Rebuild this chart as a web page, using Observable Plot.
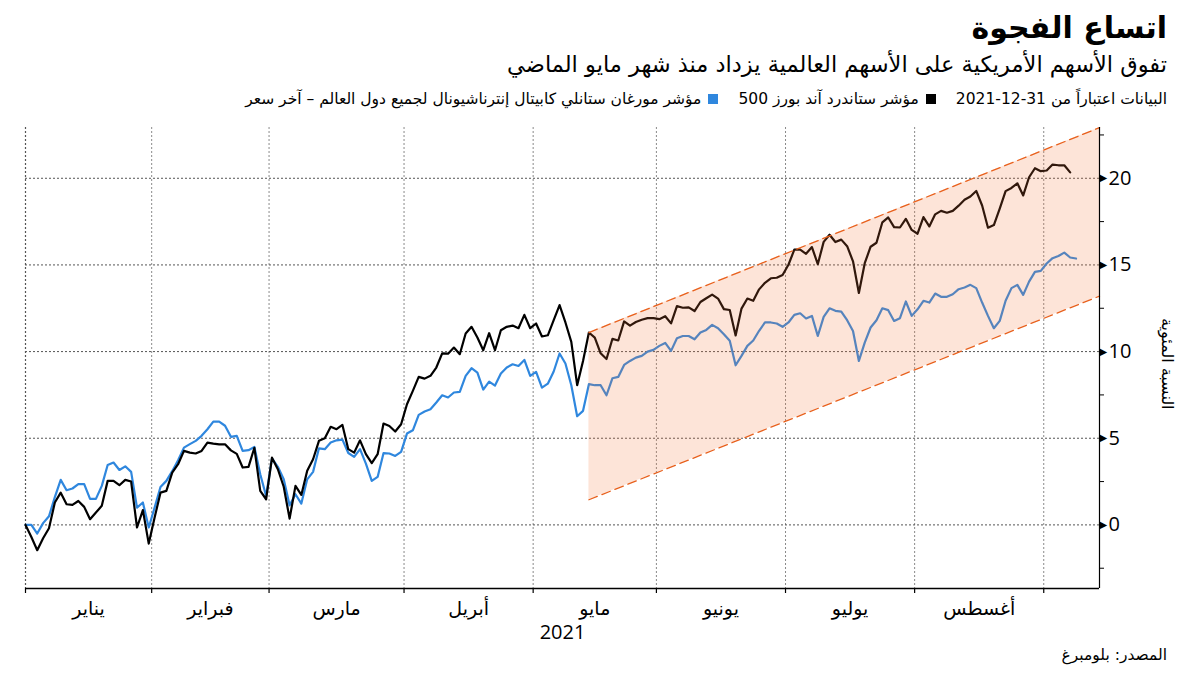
<!DOCTYPE html>
<html><head><meta charset="utf-8">
<script src="https://cdn.jsdelivr.net/npm/d3@7"></script>
<script src="https://cdn.jsdelivr.net/npm/@observablehq/plot@0.6"></script>
<style>
body{margin:0;background:#fff;}
#wrap{position:relative;width:1200px;height:675px;overflow:hidden;background:#fff;}
#chart{position:absolute;left:0;top:0;}
.hd{position:absolute;right:33px;direction:rtl;text-align:right;font-family:"DejaVu Sans",sans-serif;color:#000;white-space:nowrap;line-height:1.2;}
#title{top:10px;font-size:30px;font-weight:bold;}
#sub{top:51px;font-size:22.5px;}
#leg{top:90px;font-size:15.5px;}
.sw{display:inline-block;width:10px;height:10px;margin:0 20px 0 7px;vertical-align:0px;}
#src{top:646px;font-size:15.5px;}
</style></head><body>
<div id="wrap">
<div id="chart"></div>
<div class="hd" id="title">اتساع الفجوة</div>
<div class="hd" id="sub">تفوق الأسهم الأمريكية على الأسهم العالمية يزداد منذ شهر مايو الماضي</div>
<div class="hd" id="leg"><span>البيانات اعتباراً من 31-12-2021</span><span class="sw" style="background:#000"></span><span>مؤشر ستاندرد آند بورز 500</span><span class="sw" style="background:#2f87de"></span><span>مؤشر مورغان ستانلي كابيتال إنترناشيونال لجميع دول العالم – آخر سعر</span></div>
<div class="hd" id="src">المصدر: بلومبرغ</div>
</div>
<script>
// S&P 500, % change since 2020-12-31, one value per weekday starting 2020-12-31
const sp500 = [
0, -0.7, -1.46, -0.77, -0.19, 1.29, 1.86, 1.19, 1.15, 1.38,
1.04, 0.33, 0.71, 1.1, 2.54, 2.54, 2.29, 2.6, 2.5, -0.15,
0.85, -1.08, 0.42, 1.86, 1.96, 3.02, 3.5, 4.27, 4.17, 4.12,
4.27, 4.75, 4.69, 4.65, 4.65, 4.3, 4.1, 3.31, 3.35, 4.45,
1.96, 1.48, 3.88, 3.21, 2.2, 0.36, 2.25, 1.73, 3.12, 3.79,
4.85, 5.0, 5.66, 5.52, 5.77, 4.37, 4.17, 4.88, 4.08, 3.56,
4.08, 5.85, 5.71, 5.39, 5.81, 6.96, 7.73, 8.54, 8.44, 8.6,
9.08, 9.9, 9.88, 10.23, 9.85, 11.04, 11.43, 10.81, 10.08, 11.06,
10.08, 11.23, 11.43, 11.5, 11.35, 12.12, 11.35, 11.62, 10.87, 10.94,
11.81, 12.68, 11.68, 10.56, 8.06, 9.46, 11.1, 10.81, 9.9, 9.57,
10.73, 10.64, 11.74, 11.5, 11.71, 11.84, 11.93, 11.93, 11.87, 12.04,
11.63, 12.62, 12.53, 12.55, 12.34, 12.86, 13.08, 13.29, 13.06, 12.45,
12.4, 10.93, 12.48, 13.06, 12.93, 13.59, 13.97, 14.23, 14.26, 14.42,
15.01, 15.88, 15.88, 15.64, 16.03, 15.04, 16.33, 16.74, 16.32, 16.46,
16.08, 15.21, 13.38, 15.1, 16.05, 16.28, 17.46, 17.74, 17.18, 17.16,
17.66, 17.02, 16.8, 17.76, 17.22, 17.92, 18.12, 18.01, 18.12, 18.42,
18.76, 18.95, 19.27, 18.43, 17.15, 17.3, 18.25, 19.26, 19.44, 19.71,
19.01, 20.06, 20.58, 20.41, 20.45, 20.79, 20.75, 20.75, 20.34
];
// MSCI ACWI, % change since 2020-12-31, one value per weekday
const acwi = [
0, 0, -0.5, 0.1, 0.5, 1.6, 2.6, 2.0, 2.1, 2.35,
2.35, 1.5, 1.5, 2.25, 3.46, 3.6, 3.17, 3.38, 3.06, 1.0,
1.29, -0.15, 1.0, 2.19, 2.54, 3.1, 3.73, 4.46, 4.66, 4.85,
5.14, 5.52, 5.96, 5.96, 5.72, 5.08, 5.14, 4.27, 4.31, 4.5,
2.92, 1.67, 3.84, 3.35, 2.63, 1.13, 1.77, 1.23, 2.63, 3.06,
4.42, 4.37, 4.75, 4.88, 4.92, 4.15, 3.92, 4.37, 3.54, 2.54,
2.77, 4.14, 4.12, 3.98, 4.21, 5.27, 5.46, 6.35, 6.54, 6.67,
7.06, 7.48, 7.35, 7.64, 7.67, 8.6, 9.04, 8.79, 7.81, 8.27,
8.04, 8.73, 9.08, 9.27, 9.17, 9.52, 8.6, 8.83, 7.92, 8.15,
8.85, 9.89, 9.31, 8.06, 6.27, 6.58, 8.12, 8.06, 8.06, 7.48,
8.46, 8.54, 9.23, 9.46, 9.65, 9.75, 10.0, 10.1, 10.33, 10.5,
10.04, 10.77, 10.9, 10.9, 10.71, 11.1, 11.25, 11.54, 11.35, 11.0,
10.62, 9.21, 9.75, 10.33, 10.64, 11.2, 11.68, 11.68, 11.62, 11.43,
11.68, 12.12, 12.21, 11.91, 12.06, 10.9, 12.0, 12.5, 12.35, 12.31,
11.81, 11.19, 9.46, 10.52, 11.39, 11.81, 12.5, 12.39, 11.77, 11.93,
12.89, 12.06, 12.44, 12.93, 12.83, 13.35, 13.16, 13.16, 13.31, 13.6,
13.7, 13.85, 13.66, 12.83, 12.06, 11.35, 11.77, 12.93, 13.66, 13.85,
13.27, 14.04, 14.6, 14.66, 15.08, 15.39, 15.52, 15.71, 15.43, 15.37
];
const monthNames = ["يناير","فبراير","مارس","أبريل","مايو","يونيو","يوليو","أغسطس"];
const yearLabel = "2021";
const yMajor = [0, 5, 10, 15, 20];
const yMinor = [-2.5, 2.5, 7.5, 12.5, 17.5, 22.5];
const yDomain = [-3.67, 22.93];
const axisTitle = "النسبة المئوية";
// widening-gap channel (weekday index, lower %, upper %)
const bandStart = {i: 96, lo: 1.45, hi: 11.1};
const bandEnd = {i: 183, lo: 13.2, hi: 22.92};

// weekday calendar starting 2020-12-31
const nDays = 184;
const dates = [];
{
  const d = new Date(Date.UTC(2020, 11, 31));
  while (dates.length < nDays) {
    const wd = d.getUTCDay();
    if (wd !== 0 && wd !== 6) dates.push(new Date(d));
    d.setUTCDate(d.getUTCDate() + 1);
  }
}
const bounds = [0];
for (let m = 1; m <= 8; m++) {
  const idx = dates.findIndex(t => t.getUTCFullYear() === 2021 && t.getUTCMonth() === m);
  bounds.push(idx - 0.5);
}
const monthRows = monthNames.map((name, k) => ({name, mid: (bounds[k] + bounds[k + 1]) / 2}));
const xDomain = [0, nDays - 1];

const spRows = sp500.map((v, i) => ({i, v}));
const acRows = acwi.map((v, i) => ({i, v}));
const band = [bandStart, bandEnd];

const numFont = "'Open Sans', 'DejaVu Sans', sans-serif";
const arFont = "'DejaVu Sans', sans-serif";

const chart = Plot.plot({
  width: 1200,
  height: 675,
  marginLeft: 25,
  marginRight: 101,
  marginTop: 127,
  marginBottom: 87,
  style: {fontFamily: numFont, background: "transparent", color: "#000"},
  x: {type: "linear", domain: xDomain},
  y: {domain: yDomain, label: null},
  marks: [
    Plot.ruleX(bounds.slice(1), {stroke: "#8a8a8a", strokeDasharray: "2,2", strokeWidth: 1}),
    Plot.ruleX([xDomain[0]], {stroke: "#555", strokeDasharray: "2,2", strokeWidth: 1.2}),
    Plot.ruleY(yMajor, {stroke: "#555", strokeDasharray: "2,2", strokeWidth: 1}),
    Plot.line(acRows, {x: "i", y: "v", stroke: "#2f87de", strokeWidth: 2.2}),
    Plot.line(spRows, {x: "i", y: "v", stroke: "#000", strokeWidth: 2.2}),
    Plot.areaY(band, {x: "i", y1: "lo", y2: "hi", fill: "#f47a3a", fillOpacity: 0.2}),
    Plot.line(band, {x: "i", y: "hi", stroke: "#e8601c", strokeWidth: 1.3, strokeDasharray: "9,5"}),
    Plot.line(band, {x: "i", y: "lo", stroke: "#e8601c", strokeWidth: 1.3, strokeDasharray: "9,5"}),
    Plot.ruleY([yDomain[0]], {stroke: "#000", strokeWidth: 1.5}),
    Plot.ruleX([xDomain[1]], {stroke: "#000", strokeWidth: 1.2}),
    Plot.axisX(bounds, {anchor: "bottom", tickSize: 5, tickFormat: () => "", label: null, strokeWidth: 1.2}),
    Plot.text(monthRows, {x: "mid", y: () => yDomain[0], text: "name", dy: 20, fontSize: 19, fontFamily: arFont, fill: "#000"}),
    Plot.text([yearLabel], {x: () => (xDomain[0] + xDomain[1]) / 2, y: () => yDomain[0], text: d => d, dy: 44, fontSize: 20, fontFamily: numFont, fill: "#000"}),
    Plot.axisY(yMinor, {anchor: "right", tickSize: 4, tickFormat: () => "", label: null}),
    Plot.axisY(yMajor, {anchor: "right", tickSize: 0, tickPadding: 9, tickFormat: d => String(d), fontSize: 20, label: null}),
    Plot.text(yMajor, {x: () => xDomain[1], y: d => d, text: () => "▶", dx: 0, textAnchor: "start", fontSize: 10, fontFamily: arFont, fill: "#000"}),
    Plot.text([axisTitle], {x: () => xDomain[1], y: () => 9.3, text: d => d, dx: 68, rotate: 90, fontSize: 16, fontFamily: arFont, fill: "#000"})
  ]
});
document.getElementById("chart").appendChild(chart);
</script>
</body></html>
